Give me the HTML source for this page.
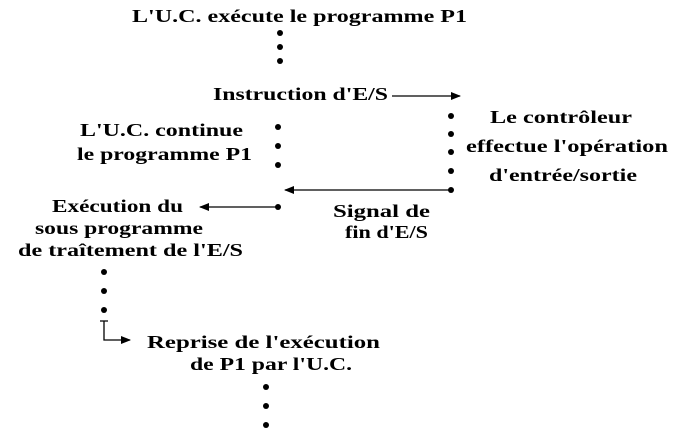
<!DOCTYPE html>
<html><head><meta charset="utf-8"><style>
html,body{margin:0;padding:0;background:#fff;}
svg{display:block}
text{font-family:"Liberation Serif",serif;font-weight:bold;font-size:18px;fill:#000;}
</style></head><body>
<svg width="686" height="441" viewBox="0 0 686 441" xmlns="http://www.w3.org/2000/svg">
<defs><marker id="a" markerWidth="10" markerHeight="8" refX="9" refY="4" orient="auto" markerUnits="userSpaceOnUse"><path d="M0,0 L10,4 L0,8 Z" fill="#000"/></marker></defs>
<text x="132" y="22" textLength="335" lengthAdjust="spacingAndGlyphs">L'U.C. exécute le programme P1</text>
<g fill="#000">
<circle cx="280" cy="33" r="3"/><circle cx="280" cy="47" r="3"/><circle cx="280" cy="61" r="3"/>
<circle cx="451" cy="116" r="3"/><circle cx="451" cy="134" r="3"/><circle cx="451" cy="152" r="3"/><circle cx="451" cy="171" r="3"/><circle cx="451" cy="190" r="3"/>
<circle cx="278" cy="127" r="3"/><circle cx="278" cy="146" r="3"/><circle cx="278" cy="165" r="3"/><circle cx="278" cy="207" r="3"/>
<circle cx="104" cy="272" r="3"/><circle cx="104" cy="291" r="3"/><circle cx="104" cy="310" r="3"/>
<circle cx="266" cy="387" r="3"/><circle cx="266" cy="406" r="3"/><circle cx="266" cy="425" r="3"/>
</g>
<text x="213" y="100" textLength="175" lengthAdjust="spacingAndGlyphs">Instruction d'E/S</text>
<line x1="392" y1="96" x2="460" y2="96" stroke="#000" stroke-width="1.3" marker-end="url(#a)"/>
<line x1="451" y1="190" x2="285" y2="190" stroke="#000" stroke-width="1.3" marker-end="url(#a)"/>
<line x1="278" y1="207" x2="200" y2="207" stroke="#000" stroke-width="1.3" marker-end="url(#a)"/>
<path d="M100,321 H108 M104,321 V340 H130" stroke="#000" stroke-width="1.3" fill="none" marker-end="url(#a)"/>
<text x="490" y="123" textLength="142" lengthAdjust="spacingAndGlyphs">Le contrôleur</text>
<text x="466" y="152" textLength="202" lengthAdjust="spacingAndGlyphs">effectue l'opération</text>
<text x="489" y="181" textLength="148" lengthAdjust="spacingAndGlyphs">d'entrée/sortie</text>
<text x="80" y="136" textLength="163" lengthAdjust="spacingAndGlyphs">L'U.C. continue</text>
<text x="77" y="160" textLength="175" lengthAdjust="spacingAndGlyphs">le programme P1</text>
<text x="333" y="217" textLength="97" lengthAdjust="spacingAndGlyphs">Signal de</text>
<text x="345" y="238" textLength="83" lengthAdjust="spacingAndGlyphs">fin d'E/S</text>
<text x="52" y="212" textLength="131" lengthAdjust="spacingAndGlyphs">Exécution du</text>
<text x="35" y="234" textLength="168" lengthAdjust="spacingAndGlyphs">sous programme</text>
<text x="18" y="256" textLength="225" lengthAdjust="spacingAndGlyphs">de traîtement de l'E/S</text>
<text x="147" y="348" textLength="233" lengthAdjust="spacingAndGlyphs">Reprise de l'exécution</text>
<text x="190" y="370" textLength="162" lengthAdjust="spacingAndGlyphs">de P1 par l'U.C.</text>
</svg>
</body></html>
